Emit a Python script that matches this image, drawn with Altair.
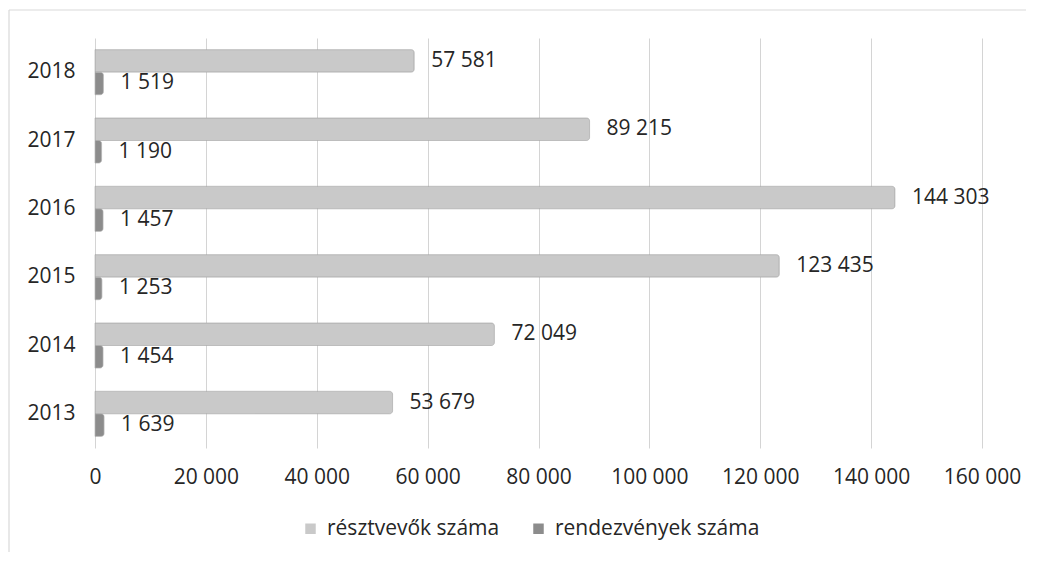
import altair as alt
import pandas as pd

years = ["2013", "2014", "2015", "2016", "2017", "2018"]
resztvevok = [53679, 72049, 123435, 144303, 89215, 57581]
rendezvenyek = [1639, 1454, 1253, 1457, 1190, 1519]
series_names = ["résztvevők száma", "rendezvények száma"]
x_ticks = [0, 20000, 40000, 60000, 80000, 100000, 120000, 140000, 160000]

rows = []
for y, a, b in zip(years, resztvevok, rendezvenyek):
    rows.append({"year": y, "series": series_names[0], "value": a})
    rows.append({"year": y, "series": series_names[1], "value": b})
df = pd.DataFrame(rows)
df["label"] = df["value"].map(lambda v: f"{v:,}".replace(",", " "))

FONT = "Open Sans"
TXT = "#262626"
year_order = years[::-1]

y_enc = alt.Y("year:N", sort=year_order, title=None,
              scale=alt.Scale(paddingInner=0.34, paddingOuter=0.17),
              axis=alt.Axis(labelFontSize=21, labelFont=FONT, labelColor=TXT,
                            ticks=False, domain=False, labelPadding=20))
yoff = alt.YOffset("series:N", sort=series_names)
x_enc = alt.X("value:Q", title=None,
              scale=alt.Scale(domain=[0, 160000], nice=False),
              axis=alt.Axis(values=x_ticks,
                            labelExpr="replace(format(datum.value, ','), /,/g, ' ')",
                            labelFontSize=21, labelFont=FONT, labelColor=TXT,
                            labelOverlap=False, labelFlush=False,
                            grid=True, gridColor="#d4d4d4", ticks=False, domain=False,
                            labelPadding=18))

bars = alt.Chart(df).mark_bar(cornerRadiusEnd=3, stroke="#a8a8a8", strokeWidth=0.6).encode(
    y=y_enc, yOffset=yoff, x=x_enc,
    color=alt.Color("series:N", sort=series_names,
                    scale=alt.Scale(domain=series_names, range=["#c9c9c9", "#8c8c8c"]),
                    legend=alt.Legend(title=None, orient="none", direction="horizontal",
                                      legendX=205, legendY=480, symbolType="square",
                                      symbolSize=110, symbolStrokeWidth=0,
                                      labelFontSize=21, labelFont=FONT, labelColor=TXT,
                                      labelLimit=0, columnPadding=28, labelOffset=6)),
)

labels = alt.Chart(df).mark_text(align="left", baseline="middle", dx=17, fontSize=21,
                                 font=FONT, color=TXT).encode(
    y=alt.Y("year:N", sort=year_order), yOffset=yoff, x="value:Q", text="label:N"
)

one = pd.DataFrame({"k": [0]})
frame_top = alt.Chart(one).mark_rule(stroke="#d9d9d9", strokeWidth=1.2).encode(
    x=alt.value(-86), x2=alt.value(990), y=alt.value(-28))
frame_left = alt.Chart(one).mark_rule(stroke="#d9d9d9", strokeWidth=1.2).encode(
    x=alt.value(-86), y=alt.value(-28), y2=alt.value(560))

chart = alt.layer(frame_top, frame_left, bars, labels).properties(
    width=887, height=410,
    autosize=alt.AutoSizeParams(type="none"),
    padding={"left": 87, "top": 30, "right": 44, "bottom": 104},
).configure_view(stroke=None)

chart.save("out.html", embed_options={"renderer": "svg", "actions": False})
